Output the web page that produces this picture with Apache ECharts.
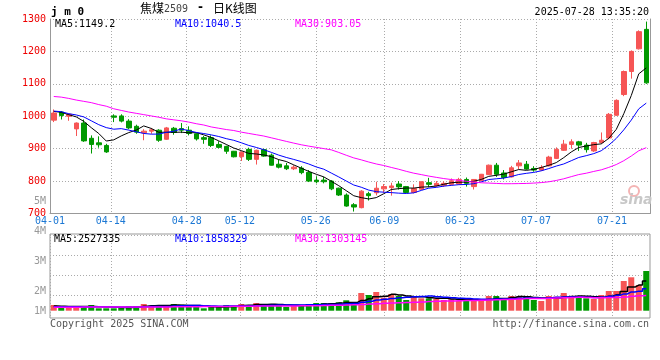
<!DOCTYPE html>
<html><head><meta charset="utf-8">
<script src="https://cdn.jsdelivr.net/npm/echarts@6/dist/echarts.min.js"></script>
<style>html,body{margin:0;padding:0;background:#fff}#c{width:660px;height:360px}</style>
</head><body><div id="c"></div>
<script>
// ---------- data ----------
const dates = ['04-01','04-02','04-03','04-07','04-08','04-09','04-10','04-11','04-14','04-15','04-16','04-17','04-18','04-21','04-22','04-23','04-24','04-25','04-28','04-29','04-30',
 '05-06','05-07','05-08','05-09','05-12','05-13','05-14','05-15','05-16','05-19','05-20','05-21','05-22','05-23','05-26','05-27','05-28','05-29','05-30',
 '06-03','06-04','06-05','06-06','06-09','06-10','06-11','06-12','06-13','06-16','06-17','06-18','06-19','06-20','06-23','06-24','06-25','06-26','06-27','06-30',
 '07-01','07-02','07-03','07-04','07-07','07-08','07-09','07-10','07-11','07-14','07-15','07-16','07-17','07-18','07-21','07-22','07-23','07-24','07-25','07-28'];
const xTickLabels = ['04-01','04-14','04-28','05-12','05-26','06-09','06-23','07-07','07-21'];

const openP = [988,1013,1000,961,979,932,918,910,1001,1001,985,969,949,954,957,929,963,962,957,946,
 934,934,913,907,892,875,898,867,897,880,852,847,838,840,827,803,803,800,778,757,
 727,718,761,764,776,780,791,783,765,775,795,786,787,790,791,805,783,801,820,849,
 825,813,847,852,839,834,847,870,895,913,921,911,893,919,933,1003,1067,1138,1208,1268];
const closeP = [1010,1002,1006,979,924,913,912,890,997,985,964,951,954,958,926,964,950,957,947,930,
 929,910,904,892,875,889,867,895,877,849,843,838,843,826,800,798,798,776,757,723,
 720,769,755,778,783,785,782,765,777,798,790,793,793,801,805,793,805,821,849,821,
 811,841,856,837,834,842,874,898,914,921,911,897,919,926,1006,1049,1138,1200,1261,1103];
const highP = [1021,1016,1008,981,990,941,938,915,1006,1006,991,974,960,964,960,967,967,979,969,948,
 939,941,923,909,893,892,903,897,900,885,866,856,849,846,834,815,813,803,780,762,
 732,772,767,798,791,795,800,785,790,799,810,800,799,808,810,811,806,822,851,856,
 834,847,865,862,846,849,878,904,927,929,924,918,921,950,1010,1052,1141,1203,1265,1292];
const lowP = [982,990,986,939,921,885,903,887,982,981,960,946,926,946,921,927,943,948,941,925,
 915,905,901,884,873,862,862,851,875,848,839,834,834,821,797,793,793,772,754,721,
 706,716,740,756,764,755,774,763,762,773,781,783,782,787,789,783,774,800,819,813,
 805,811,837,835,829,831,845,868,893,900,893,888,890,915,929,1001,1062,1116,1206,1100];

const ma5 = [1015,1012,1005,998,984.2,964.8,946.8,923.6,927.2,939.4,949.6,957.4,970.2,962.4,950.6,950.6,950.4,951.0,948.8,949.6,
 942.6,934.6,924.0,913.0,902.0,894.0,885.4,883.6,880.6,875.4,866.2,860.4,850.0,839.8,830.0,821.0,813.0,799.6,785.8,770.4,
 754.8,749.0,744.8,749.0,761.0,774.0,776.6,778.6,778.4,781.4,782.4,784.6,790.2,795.0,796.4,797.0,799.4,805.0,814.6,817.8,
 821.4,828.6,835.6,833.2,835.8,842.0,848.6,857.0,872.4,889.8,903.6,908.2,912.4,914.8,931.8,959.4,1007.6,1063.8,1130.8,1149.2];
const ma10 = [1016,1014,1008,1004,998,986,974,965,960,961.8,957.2,952.1,946.9,944.8,945.0,950.1,953.9,960.6,955.6,950.1,
 946.6,942.5,937.5,930.9,925.8,918.3,910.0,903.8,896.8,888.7,880.1,872.9,866.8,860.2,852.7,843.6,836.7,824.8,812.8,800.2,
 787.9,781.0,772.2,767.4,765.7,764.4,762.8,761.7,763.7,771.2,778.2,780.6,784.4,786.7,788.9,789.7,792.0,797.6,804.8,807.1,
 809.2,814.0,820.3,823.9,826.8,831.7,838.6,846.3,852.8,862.8,872.8,878.4,884.7,893.6,910.8,931.5,957.9,988.1,1022.8,1040.5];
const ma30 = [1061,1059,1055,1050,1046,1042,1036,1031,1023,1018,1013,1009,1005,1001,997,992,989,986,982,977,
 973,967,963,959,956,951,947,943,939,933.5,928.0,922.5,917.1,912.0,907.8,904.0,900.2,896.4,888.4,879.7,
 871.5,865.5,858.8,852.8,848.1,842.1,836.5,830.1,824.4,820.0,815.4,811.5,807.8,804.8,802.4,799.2,797.2,794.7,793.8,792.8,
 791.8,791.9,792.3,792.7,793.8,795.3,797.8,801.9,807.1,813.7,820.1,824.3,829.8,834.7,842.2,851.0,862.8,877.3,893.5,903.05];

// volume in thousand lots
const volK = [485,315,340,255,400,485,204,204,204,315,400,400,570,400,400,460,570,510,315,315,
 204,315,400,485,400,570,485,655,570,460,460,315,485,485,570,655,655,630,715,885,
 630,1506,1336,1591,1106,1421,1251,911,1251,1055,1055,996,911,970,826,1081,826,826,1251,1251,
 1081,1251,1191,1191,911,826,1251,1191,1506,1251,1106,1055,996,1336,1677,1677,2528,2843,2187,3379];
const vma5K = [400,380,360,360,359,359,337,310,299,282,265,305,378,417,434,446,480,468,451,434,
 383,332,310,344,361,434,468,519,536,548,526,492,458,441,463,502,570,599,645,708,
 703,873,1014,1190,1234,1392,1341,1256,1188,1178,1105,1054,1054,997,952,957,923,906,962,1047,
 1047,1132,1205,1193,1125,1074,1074,1074,1137,1205,1261,1222,1183,1149,1234,1348,1643,2012,2182,2527.335];
const vma10K = [330,330,330,330,335,335,335,330,325,321,312,321,344,358,358,356,392,423,434,434,
 414,406,389,397,397,408,400,414,440,454,480,480,489,489,506,514,531,529,543,586,
 603,722,807,917,971,1048,1107,1135,1189,1206,1248,1197,1155,1093,1065,1031,988,980,980,999,
 1002,1027,1055,1078,1086,1061,1103,1140,1165,1165,1168,1148,1128,1143,1220,1305,1432,1598,1666,1858.329];
const vma30K = [300,300,300,300,305,305,305,310,310,310,315,315,320,320,325,325,330,335,340,345,
 350,355,360,365,370,380,385,390,395,403,402,402,407,415,420,426,441,455,472,491,
 499,536,561,601,625,657,679,693,724,749,777,800,817,833,847,864,875,881,904,930,
 951,982,1006,1029,1041,1046,1066,1085,1111,1123,1139,1124,1113,1104,1123,1132,1175,1239,1270,1303.145];
const volTickLabels = ['1M','2M','3M','4M','5M'];
const volTickValues = [1.333, 2, 3, 4, 5];

// ---------- chart ----------
const MONO = 'DejaVu Sans Mono';
const UP = '#f65555', DOWN = '#009900';
const dot = {color:'#aaaaaa', type:[1,2], width:1};
const showTick = (i, v) => xTickLabels.indexOf(v) >= 0;
const last = dates.length - 1;

const candleData = dates.map((d, i) => [openP[i], closeP[i], lowP[i], highP[i]]);
const volData = volK.map((v, i) => ({value: v, itemStyle: {color: closeP[i] > openP[i] ? UP : DOWN}}));

const chart = echarts.init(document.getElementById('c'), null, {renderer: 'canvas'});
const txt = (x, y, text, fill, font, align) => ({type: 'text', x: x, y: y, silent: true, z: 100,
  style: {text: text, fill: fill, font: font, align: align || 'left', verticalAlign: 'middle'}});

chart.setOption({
  animation: false,
  backgroundColor: '#fff',
  grid: [
    {left: 50, top: 19, width: 600, height: 194.5},
    {left: 50, top: 234, width: 600, height: 84, show: true, borderColor: '#999', borderWidth: 1},
    {left: 50, top: 235, width: 600, height: 60},
    {left: 50, top: 185, width: 600, height: 133}
  ],
  xAxis: [
    {type: 'category', gridIndex: 0, position: 'bottom', data: dates, boundaryGap: true, show: false},
    {type: 'category', gridIndex: 0, position: 'bottom', data: dates, boundaryGap: false,
     axisLine: {lineStyle: {color: '#999'}}, axisTick: {show: false},
     axisLabel: {interval: showTick, color: '#1c78d4', fontFamily: MONO, fontSize: 10, margin: 3},
     splitLine: {show: true, interval: showTick, lineStyle: dot}},
    {type: 'category', gridIndex: 1, position: 'bottom', data: dates, boundaryGap: true, show: false},
    {type: 'category', gridIndex: 1, position: 'bottom', data: dates, boundaryGap: false,
     axisLine: {show: false}, axisTick: {show: false}, axisLabel: {show: false},
     splitLine: {show: true, interval: showTick, lineStyle: dot}},
    {type: 'category', gridIndex: 2, data: dates, show: false},
    {type: 'category', gridIndex: 3, data: dates, show: false}
  ],
  yAxis: [
    {type: 'value', gridIndex: 0, position: 'left', min: 700, max: 1300, interval: 100,
     axisLine: {show: true, lineStyle: {color: '#999'}}, axisTick: {show: false},
     axisLabel: {color: '#ee0000', fontFamily: MONO, fontSize: 10, margin: 4, padding: [0, 0, 4, 0], formatter: v => String(v)},
     splitLine: {show: true, lineStyle: dot}},
    {type: 'value', gridIndex: 0, min: 700, max: 1300, position: 'right',
     axisLine: {show: true, lineStyle: {color: '#999'}}, axisTick: {show: false},
     axisLabel: {show: false}, splitLine: {show: false}},
    {type: 'value', gridIndex: 1, min: -621, max: 6528, show: false},
    {type: 'value', gridIndex: 2, min: 0, max: 3, interval: 1,
     axisLine: {show: false}, axisTick: {show: false}, axisLabel: {show: false},
     splitLine: {show: true, lineStyle: dot}},
    {type: 'value', gridIndex: 3, position: 'left', min: 1.1, max: 5.5333,
     axisLine: {show: false}, axisTick: {show: false}, splitLine: {show: false},
     axisLabel: {customValues: volTickValues, color: '#999', fontFamily: MONO, fontSize: 10, margin: 4,
       formatter: v => volTickLabels[volTickValues.indexOf(v)] || (Math.round(v) + 'M')}}
  ],
  series: [
    {type: 'candlestick', xAxisIndex: 0, yAxisIndex: 0, data: candleData, barWidth: 5,
     itemStyle: {color: UP, color0: DOWN, borderColor: UP, borderColor0: DOWN, borderWidth: 1}},
    {type: 'line', name: 'MA5', xAxisIndex: 0, yAxisIndex: 0, data: ma5, symbol: 'none', lineStyle: {color: '#000', width: 1}},
    {type: 'line', name: 'MA10', xAxisIndex: 0, yAxisIndex: 0, data: ma10, symbol: 'none', lineStyle: {color: '#0000ff', width: 1}},
    {type: 'line', name: 'MA30', xAxisIndex: 0, yAxisIndex: 0, data: ma30, symbol: 'none', lineStyle: {color: '#ff00ff', width: 1}},
    {type: 'bar', xAxisIndex: 2, yAxisIndex: 2, data: volData, barWidth: 6},
    {type: 'line', xAxisIndex: 2, yAxisIndex: 2, data: vma5K, symbol: 'none', step: 'middle', lineStyle: {color: '#000', width: 1.5}},
    {type: 'line', xAxisIndex: 2, yAxisIndex: 2, data: vma10K, symbol: 'none', step: 'middle', lineStyle: {color: '#0000ff', width: 1.5}},
    {type: 'line', xAxisIndex: 2, yAxisIndex: 2, data: vma30K, symbol: 'none', step: 'middle', lineStyle: {color: '#ff00ff', width: 1.5}}
  ],
  graphic: [
    txt(51, 12, 'j m 0', '#000', 'bold 11px "DejaVu Sans Mono"'),
    txt(140, 8, '焦煤', '#000', '12px "Noto Sans CJK SC"'),
    txt(164, 9, '2509', '#444', '10px "DejaVu Sans Mono"'),
    txt(198, 8, '-', '#000', 'bold 12px "DejaVu Sans"'),
    txt(213, 8, '日K线图', '#000', '12px "Noto Sans CJK SC"'),
    txt(649, 12, '2025-07-28 13:35:20', '#000', '10px "DejaVu Sans Mono"', 'right'),
    txt(55, 24, 'MA5:' + ma5[last], '#000', '10px "DejaVu Sans Mono"'),
    txt(175, 24, 'MA10:' + ma10[last], '#0000ff', '10px "DejaVu Sans Mono"'),
    txt(295, 24, 'MA30:' + ma30[last], '#ff00ff', '10px "DejaVu Sans Mono"'),
    txt(54, 239.5, 'MA5:' + Math.round(vma5K[last] * 1000), '#000', '10px "DejaVu Sans Mono"'),
    txt(175, 239.5, 'MA10:' + Math.round(vma10K[last] * 1000), '#0000ff', '10px "DejaVu Sans Mono"'),
    txt(295, 239.5, 'MA30:' + Math.round(vma30K[last] * 1000), '#ff00ff', '10px "DejaVu Sans Mono"'),
    txt(50, 324.5, 'Copyright 2025 SINA.COM', '#555', '10px "DejaVu Sans Mono"'),
    txt(649, 324.5, 'http://finance.sina.com.cn', '#555', '10px "DejaVu Sans Mono"', 'right'),
    {type: 'circle', silent: true, z: 1, shape: {cx: 634, cy: 191, r: 5}, style: {fill: 'none', stroke: '#f4b4b4', lineWidth: 2}},
    txt(620, 200, 'sina', '#c8c8c8', 'italic bold 14px "DejaVu Sans"')
  ]
});
</script>
</body></html>
